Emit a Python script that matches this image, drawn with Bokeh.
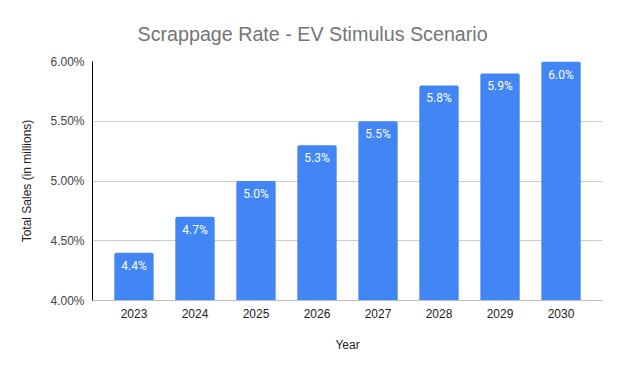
from bokeh.plotting import figure
from bokeh.models import ColumnDataSource, Range1d, FixedTicker, PrintfTickFormatter, Title, LabelSet
from bokeh.core.properties import value
from bokeh.embed import file_html
from bokeh.resources import INLINE

years = ["2023", "2024", "2025", "2026", "2027", "2028", "2029", "2030"]
rates = [4.4, 4.7, 5.0, 5.3, 5.5, 5.8, 5.9, 6.0]
rate_labels = ["4.4%", "4.7%", "5.0%", "5.3%", "5.5%", "5.8%", "5.9%", "6.0%"]
y_ticks = [4.0, 4.5, 5.0, 5.5, 6.0]

idx = list(range(len(years)))
src = ColumnDataSource(dict(x=idx, top=rates, lab=rate_labels))

FONT = "Liberation Sans"

p = figure(width=612, height=363, output_backend="svg", toolbar_location=None,
           x_range=Range1d(-0.68, len(years) - 1 + 0.68), y_range=Range1d(4.0, 6.0),
           min_border_left=92, min_border_right=10, min_border_top=61, min_border_bottom=63)
p.title = None
p.add_layout(Title(text="Scrappage Rate - EV Stimulus Scenario", align="left",
                   text_font=FONT, text_font_size="19.7px", text_font_style="normal",
                   text_color="#757575", standoff=33, offset=45), "above")

p.vbar(x="x", top="top", bottom=4.0, width=0.645, source=src,
       fill_color="#4285F4", line_color=None, border_radius=(2, 2, 0, 0))

labels = LabelSet(x="x", y="top", text="lab", source=src, text_align="center",
                  text_baseline="top", y_offset=-6, text_color="white",
                  text_font=value("Roboto"), text_font_size="12px")
p.add_layout(labels)

p.outline_line_color = None
p.xgrid.grid_line_color = None
p.ygrid.grid_line_color = "#cccccc"
p.ygrid.ticker = FixedTicker(ticks=y_ticks)

ya = p.yaxis[0]
ya.ticker = FixedTicker(ticks=y_ticks)
ya.formatter = PrintfTickFormatter(format="%.2f%%")
ya.axis_line_color = "black"
ya.major_tick_line_color = None
ya.minor_tick_line_color = None
ya.major_label_standoff = 2
ya.major_label_text_font = FONT
ya.major_label_text_font_size = "12px"
ya.major_label_text_color = "#444444"
ya.axis_label = "Total Sales (in millions)"
ya.axis_label_text_font = FONT
ya.axis_label_text_font_size = "12px"
ya.axis_label_text_font_style = "normal"
ya.axis_label_text_color = "#222222"
ya.axis_label_standoff = 13

xa = p.xaxis[0]
xa.ticker = FixedTicker(ticks=idx)
xa.major_label_overrides = {i: y for i, y in zip(idx, years)}
xa.axis_line_color = "#bdbdbd"
xa.major_tick_line_color = None
xa.minor_tick_line_color = None
xa.major_label_standoff = 2
xa.major_label_text_font = FONT
xa.major_label_text_font_size = "12px"
xa.major_label_text_color = "#222222"
xa.axis_label = "Year"
xa.axis_label_text_font = FONT
xa.axis_label_text_font_size = "12px"
xa.axis_label_text_font_style = "normal"
xa.axis_label_text_color = "#222222"
xa.axis_label_standoff = 17

open("out.html", "w").write(file_html(p, INLINE))
